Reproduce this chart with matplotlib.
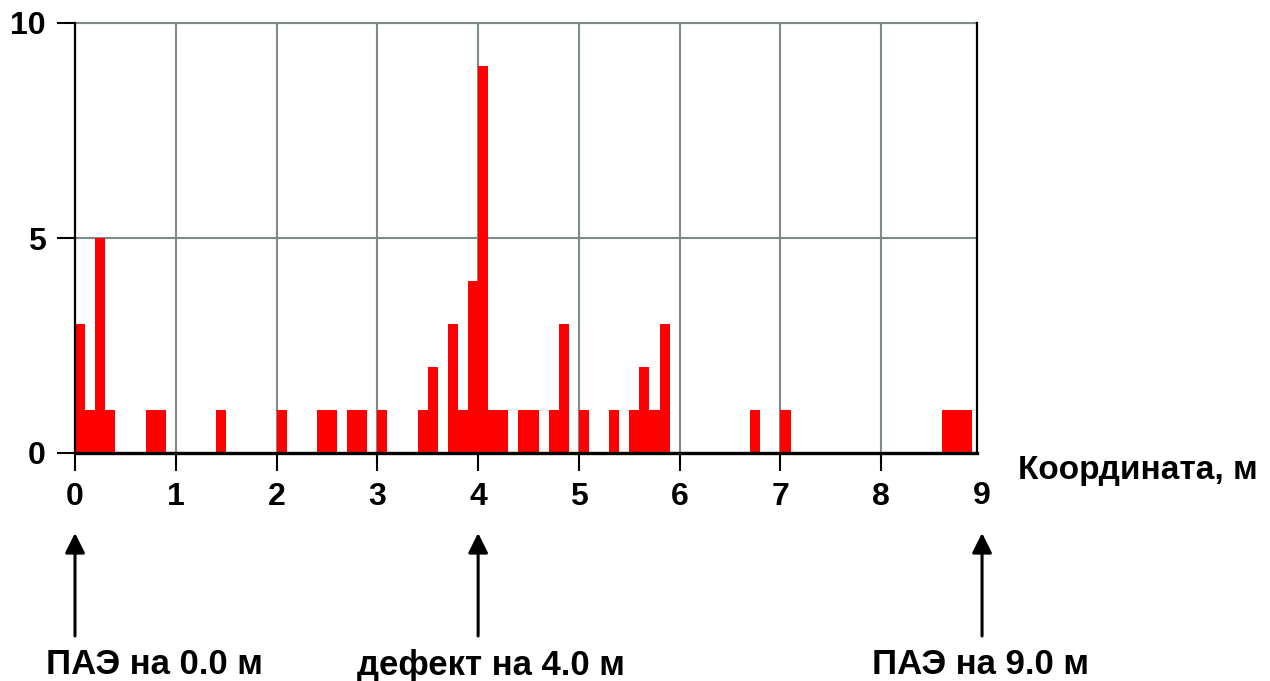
import numpy as np
import matplotlib.pyplot as plt
from matplotlib.transforms import blended_transform_factory

plt.rcParams['font.family'] = ['Liberation Sans', 'DejaVu Sans']
plt.rcParams['font.weight'] = 'bold'

# histogram bins (left edge, m) and event counts
bin_left = [0.0, 0.1, 0.2, 0.3, 0.7, 0.8, 1.4, 2.0, 2.4, 2.5, 2.7, 2.8, 3.0,
            3.4, 3.5, 3.7, 3.8, 3.9, 4.0, 4.1, 4.2, 4.4, 4.5, 4.7, 4.8, 5.0,
            5.3, 5.5, 5.6, 5.7, 5.8, 6.7, 7.0, 8.6, 8.7, 8.8]
counts = [3, 1, 5, 1, 1, 1, 1, 1, 1, 1, 1, 1, 1,
          1, 2, 3, 1, 4, 9, 1, 1, 1, 1, 1, 3, 1,
          1, 1, 2, 1, 3, 1, 1, 1, 1, 1]

x_ticks = list(range(9))
y_ticks = [0, 5, 10]

# sensors and defect positions
marker_x = [0.0, 4.0, 9.0]
marker_labels = ['ПАЭ на 0.0 м', 'дефект на 4.0 м', 'ПАЭ на 9.0 м']
label_centers_px = [154, 491, 980]

fs = 23

fig = plt.figure(figsize=(12.7, 6.81), dpi=100)
ax = fig.add_axes([75 / 1270, 1 - 453 / 681, (977 - 75) / 1270, (453 - 23) / 681])

ax.bar(bin_left, counts, width=0.1, align='edge', color='#ff0000', linewidth=0, zorder=3)

ax.set_xlim(0, 8.95)
ax.set_ylim(0, 10)
ax.set_xticks(x_ticks)
ax.set_yticks(y_ticks)
ax.tick_params(axis='both', length=13, width=1.5, color='black', labelsize=fs)
ax.tick_params(axis='x', pad=8)
ax.tick_params(axis='y', pad=8)

ax.grid(True, color='#7d8a8a', linewidth=1.5)
ax.set_axisbelow(True)

ax.spines['top'].set_color('#7d8a8a')
ax.spines['top'].set_linewidth(1.5)
ax.spines['left'].set_linewidth(1.6)
ax.spines['right'].set_linewidth(1.6)
ax.spines['bottom'].set_linewidth(2.4)
for s in ['left', 'right', 'bottom']:
    ax.spines[s].set_zorder(4)

trans = blended_transform_factory(ax.transData, fig.transFigure)

# last tick label sits just past the right edge
ax.text(9, 1 - 496 / 681, '9', transform=trans, fontsize=fs,
        ha='center', va='center', clip_on=False)

fig.text(1018 / 1270, 1 - 470 / 681, 'Координата, м', fontsize=fs + 1,
         ha='left', va='center')

for xm in marker_x:
    ax.annotate('', xy=(xm, 1 - 533 / 681), xycoords=trans,
                xytext=(xm, 1 - 636 / 681), textcoords=trans,
                arrowprops=dict(arrowstyle='-|>', color='black', lw=2.2,
                                mutation_scale=30, shrinkA=0, shrinkB=0),
                annotation_clip=False)

for lab, cx in zip(marker_labels, label_centers_px):
    fig.text(cx / 1270, 1 - 665 / 681, lab, fontsize=fs + 2, ha='center', va='center')

fig.savefig('out.png', dpi=100)
